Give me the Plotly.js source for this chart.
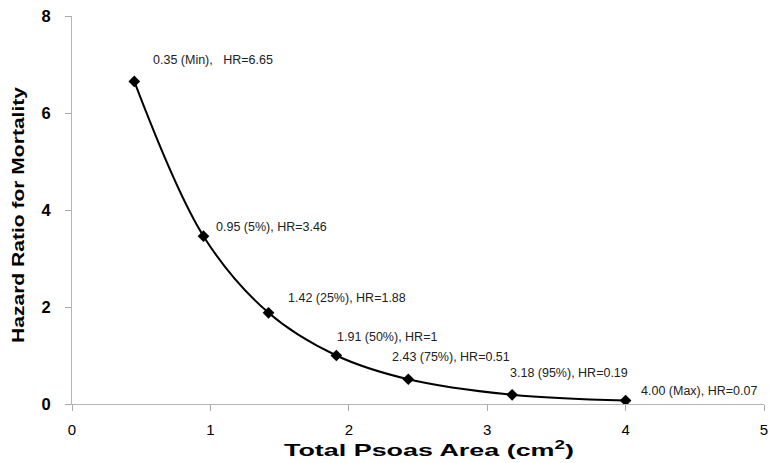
<!DOCTYPE html>
<html>
<head>
<meta charset="utf-8">
<script src="https://cdn.plot.ly/plotly-3.0.1.min.js"></script>
<style>html,body{margin:0;padding:0;background:#fff;}#chart{width:769px;height:463px;}</style>
</head>
<body>
<div id="chart"></div>
<script>
// Data
const psoasArea = [0.45, 0.95, 1.42, 1.91, 2.43, 3.18, 4.00];
const hazardRatio = [6.65, 3.46, 1.88, 1, 0.51, 0.19, 0.07];
const pointLabels = [
  "0.35 (Min),   HR=6.65",
  "0.95 (5%), HR=3.46",
  "1.42 (25%), HR=1.88",
  "1.91 (50%), HR=1",
  "2.43 (75%), HR=0.51",
  "3.18 (95%), HR=0.19",
  "4.00 (Max), HR=0.07"
];
const xTickVals = [0, 1, 2, 3, 4, 5];
const yTickVals = [0, 2, 4, 6, 8];

// label offsets (pixels) relative to each point
const labelShiftX = [17, 11, 17, -1, -18, -4, 13];
const labelShiftY = [21, 9, 15, 19, 22, 22, 10];

const FONT = "Liberation Sans, Arial, sans-serif";

const trace = {
  x: psoasArea,
  y: hazardRatio,
  type: "scatter",
  mode: "lines+markers",
  line: {color: "#000", width: 2, shape: "spline", smoothing: 1},
  marker: {symbol: "diamond", size: 9, color: "#000"},
  hoverinfo: "x+y",
  showlegend: false
};

const annotations = psoasArea.map((x, i) => ({
  x: x, y: hazardRatio[i], xref: "x", yref: "y",
  text: pointLabels[i], showarrow: false,
  xanchor: "left", yanchor: "middle",
  xshift: labelShiftX[i], yshift: labelShiftY[i],
  font: {family: FONT, size: 12.5, color: "#222"}
}));

const layout = {
  width: 769, height: 463,
  margin: {l: 72, r: 5, t: 16, b: 59},
  paper_bgcolor: "#fff", plot_bgcolor: "#fff",
  font: {family: FONT, color: "#000"},
  xaxis: {
    range: [0, 5], tickvals: xTickVals, ticktext: xTickVals.map(String),
    ticks: "outside", ticklen: 6, tickcolor: "#aaa", tickwidth: 1,
    showline: true, linecolor: "#b5b5b5", linewidth: 1,
    showgrid: false, zeroline: false,
    tickfont: {family: FONT, size: 15, color: "#000"},
    ticklabelstandoff: 6,
    title: {text: "Total Psoas Area (cm<sup>2</sup>)", font: {family: FONT, size: 17, color: "#000", weight: "bold"}, standoff: 4}
  },
  yaxis: {
    range: [0, 8], tickvals: yTickVals, ticktext: yTickVals.map(String),
    ticks: "outside", ticklen: 6, tickcolor: "#aaa", tickwidth: 1,
    showline: true, linecolor: "#b5b5b5", linewidth: 1,
    showgrid: false, zeroline: false,
    tickfont: {family: FONT, size: 16.5, color: "#000", weight: "bold"},
    ticklabelstandoff: 11,
    title: {text: "Hazard Ratio for Mortality", font: {family: FONT, size: 17, color: "#000", weight: "bold"}, standoff: 12}
  },
  annotations: annotations
};

Plotly.newPlot("chart", [trace], layout, {displayModeBar: false, staticPlot: true}).then(gd => {
  // the reference's axis titles are drawn horizontally stretched
  const xt = gd.querySelector(".xtitle");
  if (xt) {
    xt.setAttribute("textLength", "290");
    xt.setAttribute("lengthAdjust", "spacingAndGlyphs");
    xt.setAttribute("x", String(parseFloat(xt.getAttribute("x")) + 11));
  }
  const yt = gd.querySelector(".ytitle");
  if (yt) {
    yt.setAttribute("textLength", "256");
    yt.setAttribute("lengthAdjust", "spacingAndGlyphs");
    const tx = parseFloat(yt.getAttribute("x"));
    const ty = parseFloat(yt.getAttribute("y")) + 5;
    yt.setAttribute("y", String(ty));
    yt.setAttribute("transform", "rotate(-90," + tx + "," + ty + ")");
  }
});
</script>
</body>
</html>
